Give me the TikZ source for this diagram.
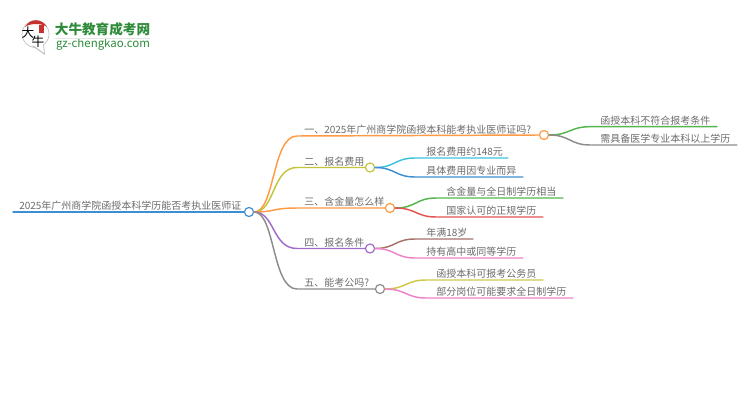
\documentclass[tikz,border=0pt]{standalone}
\usepackage{fontspec}
\usepackage{xcolor}
\setmainfont{Noto Sans CJK SC}
\definecolor{rootblue}{HTML}{3D8FD1}
\definecolor{orangeline}{HTML}{FF9A45}
\definecolor{oliveline}{HTML}{C4C43A}
\definecolor{purpleline}{HTML}{A06CCB}
\definecolor{grayline}{HTML}{8C8C8C}
\definecolor{greenline}{HTML}{55B64F}
\definecolor{cyanline}{HTML}{3CC3DC}
\definecolor{blueline}{HTML}{3D8FD1}
\definecolor{redline}{HTML}{E25353}
\definecolor{brownline}{HTML}{A5716A}
\definecolor{pinkline}{HTML}{EE82C8}
\definecolor{yellowline}{HTML}{CCC84A}
\definecolor{logogreen}{HTML}{2E8B3A}
\definecolor{logored}{HTML}{C8322D}
\tikzset{
  dot/.style={circle,draw=#1,fill=white,line width=0.9pt,minimum size=6.8pt,inner sep=0pt},
  link/.style={line width=1.1pt,line cap=round},
  label/.style={text=black!58,font=\fontsize{7.5}{9}\selectfont,anchor=south west,inner sep=0pt,yshift=-0.7pt}
}
\begin{document}
\begin{tikzpicture}[x=0.75pt,y=-0.75pt]
\useasboundingbox (0,0) rectangle (750,410);

% Logo
\fill[white,draw=black!25,line width=0.5pt] (35.5,34) circle (13.5);
\fill[black!25] (32,46) -- (44,45) -- (45,55) -- cycle;
\fill[white] (33,45) -- (43,44) -- (44,53) -- cycle;
\fill[logored] (25,27) .. controls (30,18) and (42,18) .. (47,27) .. controls (42,23) and (30,23) .. (25,27) -- cycle;
\fill[logored] (39,25) rectangle (44,33);
\node[font=\fontsize{9.5}{10}\selectfont,inner sep=0pt] (logoda) at (28,32.5) {大};
\node[font=\fontsize{9.5}{10}\selectfont,inner sep=0pt] (logoniu) at (38,42) {牛};
\node[text=logogreen,font=\fontsize{10.2}{11}\bfseries\selectfont,inner sep=0pt] (logotitle) at (102.5,29.5) {大牛教育成考网};
\node[text=logogreen,font=\fontsize{8.6}{9}\selectfont,inner sep=0pt] (logourl) at (103,44.5) {gz-chengkao.com};
\fill[black!10] (55,38) rectangle (150,38.6);

% Main nodes
\node[dot=rootblue] (root) at (249,212) {};
\node[dot=orangeline] (one) at (544,135) {};
\node[dot=oliveline] (two) at (370,167.5) {};
\node[dot=orangeline] (three) at (390,208) {};
\node[dot=purpleline] (four) at (370,248.5) {};
\node[dot=grayline] (five) at (380,289) {};

% Ends of the lines
\coordinate (rootend) at (13,212);
\coordinate (oneleft) at (297,136);
\coordinate (twoleft) at (297,167.5);
\coordinate (threeleft) at (297,208);
\coordinate (fourleft) at (297,248.5);
\coordinate (fiveleft) at (297,289);

% Root and branches
\draw[link,rootblue] (root.west) -- (rootend);
\draw[link,orangeline] (root.east) .. controls (275,212) and (272,136) .. (oneleft) -- (one.west);
\draw[link,oliveline] (root.east) .. controls (275,212) and (272,167.5) .. (twoleft) -- (two.west);
\draw[link,orangeline] (root.east) .. controls (275,212) and (272,208) .. (threeleft) -- (three.west);
\draw[link,purpleline] (root.east) .. controls (275,212) and (272,248.5) .. (fourleft) -- (four.west);
\draw[link,grayline] (root.east) .. controls (275,212) and (272,289) .. (fiveleft) -- (five.west);

% Leaves of branch one
\coordinate (onea) at (590,126.7);
\coordinate (oneaend) at (717,126.7);
\coordinate (oneb) at (590,145);
\coordinate (onebend) at (737,145);
\draw[link,greenline] (one.east) .. controls (570,135) and (570,126.7) .. (onea) -- (oneaend);
\draw[link,grayline] (one.east) .. controls (570,135) and (570,145) .. (oneb) -- (onebend);

% Leaves of branch two
\coordinate (twoa) at (415,158);
\coordinate (twoaend) at (508,158);
\coordinate (twob) at (415,177);
\coordinate (twobend) at (523,177);
\draw[link,cyanline] (two.east) .. controls (395,167.5) and (395,158) .. (twoa) -- (twoaend);
\draw[link,blueline] (two.east) .. controls (395,167.5) and (395,177) .. (twob) -- (twobend);

% Leaves of branch three
\coordinate (threea) at (436,198);
\coordinate (threeaend) at (563,198);
\coordinate (threeb) at (436,217);
\coordinate (threebend) at (543,217);
\draw[link,greenline] (three.east) .. controls (416,208) and (416,198) .. (threea) -- (threeaend);
\draw[link,redline] (three.east) .. controls (416,208) and (416,217) .. (threeb) -- (threebend);

% Leaves of branch four
\coordinate (foura) at (415,239);
\coordinate (fouraend) at (473,239);
\coordinate (fourb) at (415,258);
\coordinate (fourbend) at (523,258);
\draw[link,brownline] (four.east) .. controls (395,248.5) and (395,239) .. (foura) -- (fouraend);
\draw[link,pinkline] (four.east) .. controls (395,248.5) and (395,258) .. (fourb) -- (fourbend);

% Leaves of branch five
\coordinate (fivea) at (426,280);
\coordinate (fiveaend) at (543,280);
\coordinate (fiveb) at (426,298);
\coordinate (fivebend) at (573,298);
\draw[link,yellowline] (five.east) .. controls (406,289) and (406,280) .. (fivea) -- (fiveaend);
\draw[link,pinkline] (five.east) .. controls (406,289) and (406,298) .. (fiveb) -- (fivebend);

% Labels
\node[label] (roottext) at (19,210) {2025年广州商学院函授本科学历能否考执业医师证};
\node[label] (onetext) at (304,134) {一、2025年广州商学院函授本科能考执业医师证吗?};
\node[label] (twotext) at (304,165.5) {二、报名费用};
\node[label] (threetext) at (304,206) {三、含金量怎么样};
\node[label] (fourtext) at (304,246.5) {四、报名条件};
\node[label] (fivetext) at (304,287) {五、能考公吗?};
\node[label] (oneatext) at (600,124.7) {函授本科不符合报考条件};
\node[label] (onebtext) at (600,143) {需具备医学专业本科以上学历};
\node[label] (twoatext) at (426,156) {报名费用约148元};
\node[label] (twobtext) at (426,175) {具体费用因专业而异};
\node[label] (threeatext) at (446,196) {含金量与全日制学历相当};
\node[label] (threebtext) at (446,215) {国家认可的正规学历};
\node[label] (fouratext) at (426,237) {年满18岁};
\node[label] (fourbtext) at (426,256) {持有高中或同等学历};
\node[label] (fiveatext) at (436,278) {函授本科可报考公务员};
\node[label] (fivebtext) at (436,296) {部分岗位可能要求全日制学历};
\end{tikzpicture}
\end{document}
